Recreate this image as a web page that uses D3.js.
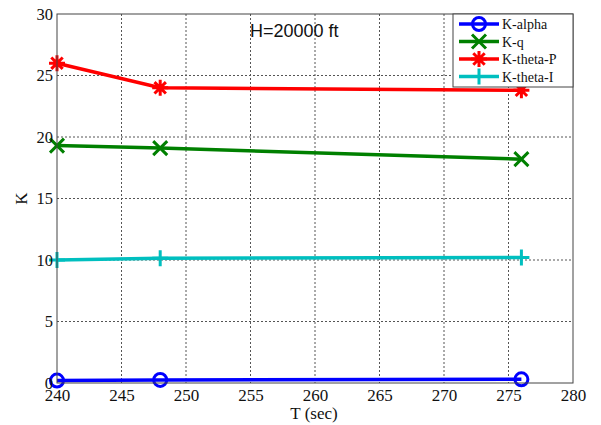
<!DOCTYPE html>
<html>
<head>
<meta charset="utf-8">
<script src="https://cdn.jsdelivr.net/npm/d3@7"></script>
<style>
	body { margin: 0; background: #fff; }
	svg { display: block; }
</style>
</head>
<body>
<main></main>
<script>
// DATA
const T = [240, 248, 276];
const kAlpha = [0.2, 0.25, 0.3];
const kQ = [19.3, 19.1, 18.2];
const kThetaP = [26.0, 24.0, 23.8];
const kThetaI = [10.0, 10.15, 10.2];
const xTicks = [240, 245, 250, 255, 260, 265, 270, 275, 280];
const yTicks = [0, 5, 10, 15, 20, 25, 30];
const seriesNames = ["K-alpha", "K-q", "K-theta-P", "K-theta-I"];
const seriesColors = ["#0000ff", "#008000", "#ff0000", "#00bfbf"];
const seriesMarkers = ["circle", "x", "star", "plus"];
const seriesValues = [kAlpha, kQ, kThetaP, kThetaI];

// chart dimension
const w = 601, h = 425;
const pLeft = 57, pRight = 573, pTop = 14, pBottom = 383;
const serif = "'Liberation Serif', 'Times New Roman', serif";

const svg = d3.select("main").append("svg")
	.attr("width", w)
	.attr("height", h);

// scales
const xScale = d3.scaleLinear().domain([240, 280]).range([pLeft, pRight]);
const yScale = d3.scaleLinear().domain([0, 30]).range([pBottom, pTop]);

// grid
const grid = svg.append("g");
grid.selectAll(".gx")
	.data(xTicks.slice(1, -1))
	.enter().append("line")
		.attr("x1", d => xScale(d)).attr("x2", d => xScale(d))
		.attr("y1", pTop).attr("y2", pBottom)
		.attr("stroke", "#555").attr("stroke-width", 1)
		.attr("stroke-dasharray", "2,2");
grid.selectAll(".gy")
	.data(yTicks.slice(1, -1))
	.enter().append("line")
		.attr("x1", pLeft).attr("x2", pRight)
		.attr("y1", d => yScale(d)).attr("y2", d => yScale(d))
		.attr("stroke", "#555").attr("stroke-width", 1)
		.attr("stroke-dasharray", "2,2");

// markers
function drawMarker(g, type, color, x, y) {
	const s = 7;
	if (type === "circle") {
		g.append("circle").attr("cx", x).attr("cy", y).attr("r", 6.5)
			.attr("fill", "none").attr("stroke", color).attr("stroke-width", 3);
	} else if (type === "x") {
		g.append("path")
			.attr("d", `M${x-s},${y-s}L${x+s},${y+s}M${x-s},${y+s}L${x+s},${y-s}`)
			.attr("stroke", color).attr("stroke-width", 3);
	} else if (type === "plus") {
		g.append("path")
			.attr("d", `M${x-s-1},${y}L${x+s+1},${y}M${x},${y-s-1}L${x},${y+s+1}`)
			.attr("stroke", color).attr("stroke-width", 3);
	} else if (type === "star") {
		const r = 8, d = 5.7;
		g.append("path")
			.attr("d", `M${x-r},${y}L${x+r},${y}M${x},${y-r}L${x},${y+r}M${x-d},${y-d}L${x+d},${y+d}M${x-d},${y+d}L${x+d},${y-d}`)
			.attr("stroke", color).attr("stroke-width", 3);
	}
}

// lines
const line = d3.line().x((d, i) => xScale(T[i])).y(d => yScale(d));
const plot = svg.append("g");
seriesValues.forEach((vals, k) => {
	plot.append("path")
		.datum(vals)
		.attr("d", line)
		.attr("fill", "none")
		.attr("stroke", seriesColors[k])
		.attr("stroke-width", 3.5);
	vals.forEach((v, i) => drawMarker(plot, seriesMarkers[k], seriesColors[k], xScale(T[i]), yScale(v)));
});

// axes box
svg.append("rect")
	.attr("x", pLeft).attr("y", pTop)
	.attr("width", pRight - pLeft).attr("height", pBottom - pTop)
	.attr("fill", "none").attr("stroke", "#444").attr("stroke-width", 1);

// axes
const xAxis = d3.axisBottom(xScale).tickValues(xTicks).tickSize(0).tickPadding(6);
svg.append("g")
	.attr("transform", `translate(0, ${pBottom})`)
	.call(xAxis)
	.call(g => g.select(".domain").remove())
	.selectAll("text")
		.attr("font-family", serif)
		.attr("font-size", 17).attr("fill", "#111");
const yAxis = d3.axisLeft(yScale).tickValues(yTicks).tickSize(0).tickPadding(4);
svg.append("g")
	.attr("transform", `translate(${pLeft}, 0)`)
	.call(yAxis)
	.call(g => g.select(".domain").remove())
	.selectAll("text")
		.attr("font-family", serif)
		.attr("font-size", 16.5).attr("fill", "#111");

// axis labels
svg.append("text")
	.attr("x", 314).attr("y", 419)
	.attr("text-anchor", "middle")
	.attr("font-family", serif)
	.attr("font-size", 17).attr("fill", "#111")
	.text("T (sec)");
svg.append("text")
	.attr("transform", `translate(27, ${(pTop + pBottom) / 2}) rotate(-90)`)
	.attr("text-anchor", "middle")
	.attr("font-family", serif)
	.attr("font-size", 17).attr("fill", "#111")
	.text("K");

// annotation inside plot
svg.append("text")
	.attr("x", 250).attr("y", 36.5)
	.attr("font-family", "'Liberation Sans', Arial, sans-serif")
	.attr("font-size", 18).attr("fill", "#111")
	.text("H=20000 ft");

// legend
const lg = svg.append("g");
lg.append("rect")
	.attr("x", 453).attr("y", pTop)
	.attr("width", pRight - 453).attr("height", 73)
	.attr("fill", "#fff").attr("stroke", "#444").attr("stroke-width", 1);
seriesNames.forEach((name, k) => {
	const y = 24 + k * 17.5;
	lg.append("line")
		.attr("x1", 459).attr("x2", 499).attr("y1", y).attr("y2", y)
		.attr("stroke", seriesColors[k]).attr("stroke-width", 3.5);
	drawMarker(lg, seriesMarkers[k], seriesColors[k], 479, y);
	lg.append("text")
		.attr("x", 502).attr("y", y + 5)
		.attr("font-family", serif)
		.attr("font-size", 14).attr("fill", "#111")
		.text(name);
});
</script>
</body>
</html>
